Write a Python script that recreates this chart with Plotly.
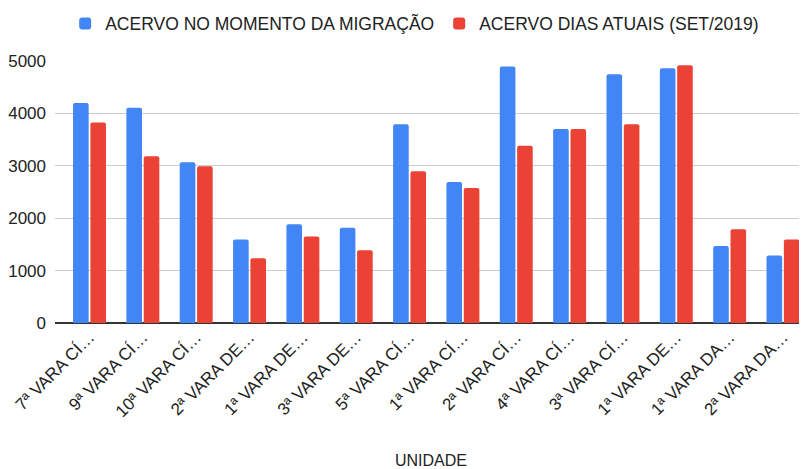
import plotly.graph_objects as go

categories = ["7ª VARA CÍ…", "9ª VARA CÍ…", "10ª VARA CÍ…", "2ª VARA DE…", "1ª VARA DE…",
              "3ª VARA DE…", "5ª VARA CÍ…", "1ª VARA CÍ…", "2ª VARA CÍ…", "4ª VARA CÍ…",
              "3ª VARA CÍ…", "1ª VARA DE…", "1ª VARA DA…", "2ª VARA DA…"]
migracao = [4200, 4110, 3067, 1592, 1884, 1820, 3792, 2691, 4893, 3702, 4746, 4861, 1470, 1286]
atuais = [3824, 3181, 2990, 1235, 1649, 1387, 2895, 2577, 3385, 3702, 3792, 4918, 1788, 1592]
yticks = [0, 1000, 2000, 3000, 4000, 5000]

positions = list(range(len(categories)))

fig = go.Figure()
fig.add_trace(go.Bar(x=positions, y=migracao, name="ACERVO NO MOMENTO DA MIGRAÇÃO",
                     marker=dict(color="#4285F4", line=dict(width=0))))
fig.add_trace(go.Bar(x=positions, y=atuais, name="ACERVO DIAS ATUAIS (SET/2019)",
                     marker=dict(color="#EA4335", line=dict(width=0))))

fig.update_layout(
    width=799, height=461,
    margin=dict(l=47, r=0, t=53, b=146),
    paper_bgcolor="white", plot_bgcolor="white",
    font=dict(family="Liberation Sans, Arial, sans-serif", size=17, color="#222222"),
    barmode="group", bargap=0.35, bargroupgap=0.1, barcornerradius=2,
    legend=dict(orientation="h", x=0.509, xanchor="center", xref="container",
                y=0.966, yanchor="middle", yref="container",
                font=dict(size=17.5, color="#222222"), traceorder="normal"),
    xaxis=dict(title=dict(text="UNIDADE", font=dict(size=16), standoff=38),
               range=[-0.647, 13.45], tickvals=positions, ticktext=categories,
               tickangle=-45, showgrid=False, ticks="", tickfont=dict(size=17),
               automargin=False),
    yaxis=dict(range=[0, 5000], tickvals=yticks, showgrid=True, gridcolor="#cccccc",
               zeroline=True, zerolinecolor="#333333", zerolinewidth=1.5,
               tickfont=dict(size=17), ticks="", ticklabelstandoff=8, automargin=False),
)
fig.write_html("out.html")
